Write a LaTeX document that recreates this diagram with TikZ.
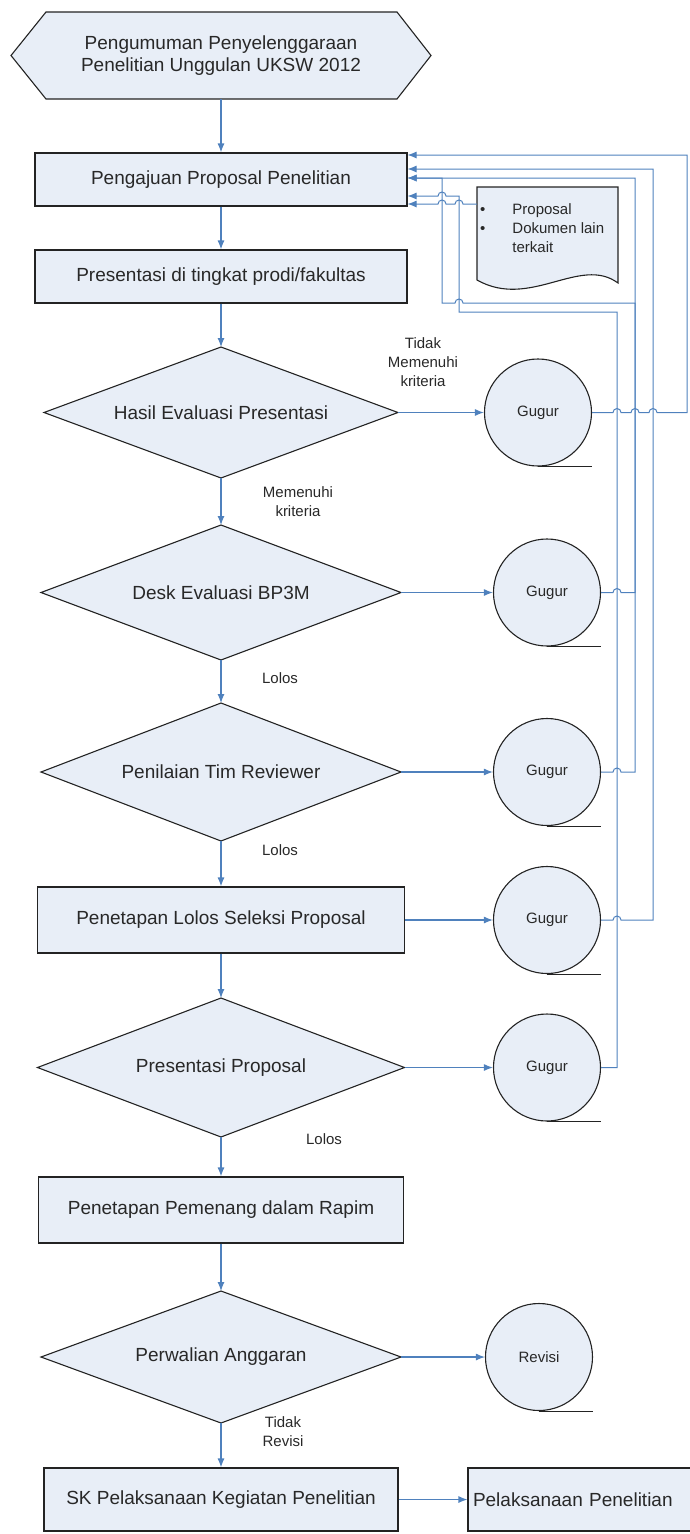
\documentclass[tikz,border=0pt]{standalone}
\usepackage{fontspec}
\setmainfont{Liberation Sans}
\usetikzlibrary{arrows.meta}
\definecolor{boxfill}{RGB}{232,238,247}
\definecolor{conn}{RGB}{79,129,189}
\definecolor{edgec}{RGB}{35,35,35}
\definecolor{txt}{RGB}{40,40,40}
% decision: name, x, y, width, height, text
\newcommand{\mydecision}[6]{%
  \path[shapeline] (#2-#4/2,#3) -- (#2,#3-#5/2) -- (#2+#4/2,#3) -- (#2,#3+#5/2) -- cycle;
  \node[bigtext, minimum width=#4pt, minimum height=#5pt, inner sep=0pt, outer sep=0pt] (#1) at (#2,#3) {#6};}
\begin{document}
\begin{tikzpicture}[x=1pt,y=-1pt,
  shapeline/.style={draw=edgec, fill=boxfill, line width=1.1pt},
  bigtext/.style={text=txt, font=\fontsize{19}{22}\selectfont, align=center},
  procbox/.style={shapeline, bigtext, rectangle, inner sep=0pt},
  endcirc/.style={shapeline, circle, minimum size=107pt, inner sep=0pt, text=txt, font=\fontsize{15}{18}\selectfont},
  tailline/.style={draw=edgec, line width=1.1pt},
  lbl/.style={text=txt, font=\fontsize{15}{19}\selectfont, align=center, inner sep=0pt},
  flow/.style={draw=conn, line width=1.2pt, -{Latex[length=9pt,width=7pt]}},
  fb/.style={draw=conn, line width=1pt, -{Latex[length=9pt,width=7pt]}},
]
\useasboundingbox (0,0) rectangle (689,1534);

% hexagon (start)
\path[shapeline] (11,55.5) -- (46,12) -- (397,12) -- (431,55.5) -- (397,99) -- (46,99) -- cycle;
\node[bigtext, minimum width=420pt, minimum height=87pt, inner sep=0pt] (hex) at (221,55.5) {Pengumuman Penyelenggaraan\\Penelitian Unggulan UKSW 2012};

% document shape
\path[shapeline] (477,187) -- (618,187) -- (618,283) .. controls (580,255) and (530,310) .. (477,280) -- cycle;
\node[minimum width=141pt, minimum height=96pt, inner sep=0pt] (doc) at (547.5,235) {};
\node[lbl, anchor=north west, align=left] (doctext) at (480,201) {\begin{tabular}{@{}l@{\hspace{27pt}}l@{}}\textbullet & Proposal\\ \textbullet & Dokumen lain\\ & terkait\end{tabular}};

% main column
\node[procbox, minimum width=372pt, minimum height=53pt] (p1) at (221,179.5) {Pengajuan Proposal Penelitian};
\node[procbox, minimum width=372pt, minimum height=53pt] (p2) at (221,276.5) {Presentasi di tingkat prodi/fakultas};
\mydecision{d1}{221}{412.5}{354}{131}{Hasil Evaluasi Presentasi}
\mydecision{d2}{221}{592.5}{360}{135}{Desk Evaluasi BP3M}
\mydecision{d3}{221}{772}{360}{138}{Penilaian Tim Reviewer}
\node[procbox, minimum width=367pt, minimum height=66pt] (p3) at (221,920) {Penetapan Lolos Seleksi Proposal};
\mydecision{d4}{221}{1067.5}{367}{139}{Presentasi Proposal}
\node[procbox, minimum width=365pt, minimum height=66pt] (p4) at (221,1210) {Penetapan Pemenang dalam Rapim};
\mydecision{d5}{221}{1357}{360}{132}{Perwalian Anggaran}
\node[procbox, minimum width=354pt, minimum height=63pt] (p5) at (221,1499.5) {SK Pelaksanaan Kegiatan Penelitian};
\node[procbox, minimum width=230pt, minimum height=63pt, text width=220pt, align=left] (p6) at (583,1499.5) {Pelaksanaan Penelitian};

% circles
\node[endcirc] (g1) at (538,412.5) {Gugur};
\node[endcirc] (g2) at (547,592.5) {Gugur};
\node[endcirc] (g3) at (547,772) {Gugur};
\node[endcirc] (g4) at (547,920) {Gugur};
\node[endcirc] (g5) at (547,1067.5) {Gugur};
\node[endcirc] (rv) at (539,1357) {Revisi};
\foreach \c in {g1,g2,g3,g4,g5,rv} \draw[tailline] (\c.south) -- (\c.south -| \c.east);

% labels
\node[lbl] (l1) at (423,362) {Tidak\\Memenuhi\\kriteria};
\node[lbl] (l2) at (298,502) {Memenuhi\\kriteria};
\node[lbl] (l3) at (280,678) {Lolos};
\node[lbl] (l4) at (280,850) {Lolos};
\node[lbl] (l5) at (324,1139) {Lolos};
\node[lbl] (l6) at (283,1432) {Tidak\\Revisi};

% main flow
\draw[flow] (hex.south) -- (p1.north);
\draw[flow] (p1.south) -- (p2.north);
\draw[flow] (p2.south) -- (d1.north);
\draw[flow] (d1.south) -- (d2.north);
\draw[flow] (d2.south) -- (d3.north);
\draw[flow] (d3.south) -- (p3.north);
\draw[flow] (p3.south) -- (d4.north);
\draw[flow] (d4.south) -- (p4.north);
\draw[flow] (p4.south) -- (d5.north);
\draw[flow] (d5.south) -- (p5.north);
\draw[flow] (p5.east) -- (p6.west);

% side arrows
\draw[flow] (d1.east) -- (g1.west);
\draw[flow] (d2.east) -- (g2.west);
\draw[flow] (d3.east) -- (g3.west);
\draw[flow] (p3.east) -- (g4.west);
\draw[flow] (d4.east) -- (g5.west);
\draw[flow] (d5.east) -- (rv.west);

% feedback connectors to Pengajuan
\draw[fb] (g1.east) -- (613,412.5) arc[start angle=180,end angle=0,radius=4pt]
  -- (631,412.5) arc[start angle=180,end angle=0,radius=4pt]
  -- (649,412.5) arc[start angle=180,end angle=0,radius=4pt]
  -- (687,412.5) -- (687,155) -- (p1.east |- 0,155);
\draw[fb] (g2.east) -- (613,592.5) arc[start angle=180,end angle=0,radius=4pt]
  -- (635,592.5) -- (635,303) -- (463,303) arc[start angle=0,end angle=180,radius=4pt]
  -- (442,303) -- (442,178) -- (p1.east |- 0,178);
\draw[fb] (g3.east) -- (613,772) arc[start angle=180,end angle=0,radius=4pt]
  -- (635,772) -- (635,178) -- (p1.east |- 0,178);
\draw[fb] (g4.east) -- (613,920) arc[start angle=180,end angle=0,radius=4pt]
  -- (653,920) -- (653,169) -- (p1.east |- 0,169);
\draw[fb] (g5.east) -- (617,1067.5) -- (617,312) -- (459,312) -- (459,196)
  -- (446,196) arc[start angle=0,end angle=180,radius=4pt] -- (p1.east |- 0,196);
\draw[fb] (doc.west |- 0,204) -- (463,204) arc[start angle=0,end angle=180,radius=4pt]
  -- (446,204) arc[start angle=0,end angle=180,radius=4pt] -- (p1.east |- 0,204);
\end{tikzpicture}
\end{document}
